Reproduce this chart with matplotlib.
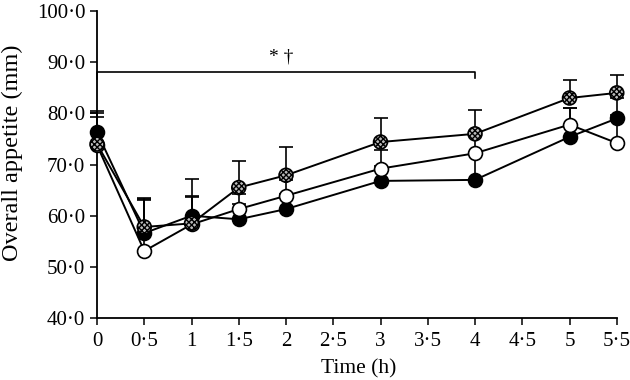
import matplotlib
matplotlib.use("Agg")
import matplotlib.pyplot as plt
from matplotlib.ticker import FuncFormatter

plt.rcParams['font.family'] = ['Liberation Serif', 'DejaVu Serif']

time = [0, 0.5, 1, 1.5, 2, 3, 4, 5, 5.5]
filled = [76.3, 56.6, 60.0, 59.3, 61.3, 66.8, 67.0, 75.4, 79.0]
filled_err = [4.2, 6.6, 7.1, 3.0, 3.0, 3.0, 5.0, 5.6, 4.0]
open_ = [73.8, 53.1, 58.3, 61.3, 63.9, 69.2, 72.2, 77.8, 74.2]
open_err = [5.4, 10.0, 5.5, 3.0, 3.0, 3.7, 3.5, 3.3, 5.5]
hatched = [74.0, 57.8, 58.5, 65.5, 67.9, 74.4, 76.0, 83.0, 84.0]
hatched_err = [6.0, 5.7, 5.2, 5.2, 5.5, 4.7, 4.6, 3.6, 3.5]

xticks = [0, 0.5, 1, 1.5, 2, 2.5, 3, 3.5, 4, 4.5, 5, 5.5]
yticks = [40, 50, 60, 70, 80, 90, 100]

fig = plt.figure(figsize=(6.3, 3.8), dpi=100)
ax = fig.add_axes([0.154, 0.163, 0.825, 0.808])

ms = 10
lw = 1.4
for y, e, z in [(filled, filled_err, 3), (open_, open_err, 4), (hatched, hatched_err, 5)]:
    eb = ax.errorbar(time, y, yerr=[[0]*len(e), e], fmt='none', ecolor='black',
                     elinewidth=1.2, capsize=5, capthick=1.2, zorder=z - 0.5)
    for art in eb.get_children():
        art.set_clip_on(False)
    ax.plot(time, y, color='black', lw=lw, zorder=z - 0.4, clip_on=False)

ax.scatter(time, filled, s=ms**2, facecolor='black', edgecolor='black', linewidth=1.2,
           zorder=6, clip_on=False)
ax.scatter(time, open_, s=ms**2, facecolor='white', edgecolor='black', linewidth=1.2,
           zorder=6, clip_on=False)
ax.scatter(time, hatched, s=ms**2, facecolor='#bbbbbb', edgecolor='black', hatch='xxxxxx',
           linewidth=1.2, zorder=7, clip_on=False)

# significance bracket
ax.plot([0, 0, 4, 4], [86.8, 88.0, 88.0, 87.0], color='black', lw=1.2, clip_on=False)
ax.text(1.95, 89.3, '* \u2020', ha='center', va='bottom', fontsize=14)

ax.set_xlim(0, 5.5)
ax.set_ylim(40, 100)
ax.set_xticks(xticks)
ax.set_yticks(yticks)
ax.xaxis.set_major_formatter(FuncFormatter(lambda v, p: ('%g' % v).replace('.', '\u00b7')))
ax.yaxis.set_major_formatter(FuncFormatter(lambda v, p: ('%.1f' % v).replace('.', '\u00b7')))
ax.tick_params(direction='out', length=5, width=1.1, labelsize=15, colors='black')
ax.tick_params(axis='x', pad=5)
for s in ['top', 'right']:
    ax.spines[s].set_visible(False)
for s in ['left', 'bottom']:
    ax.spines[s].set_linewidth(1.3)
ax.set_xlabel('Time (h)', fontsize=15.5)
ax.xaxis.set_label_coords(0.504, -0.135)
ax.set_ylabel('Overall appetite (mm)', fontsize=17.5)
ax.yaxis.set_label_coords(-0.143, 0.54)

fig.savefig('out.png', dpi=100)
